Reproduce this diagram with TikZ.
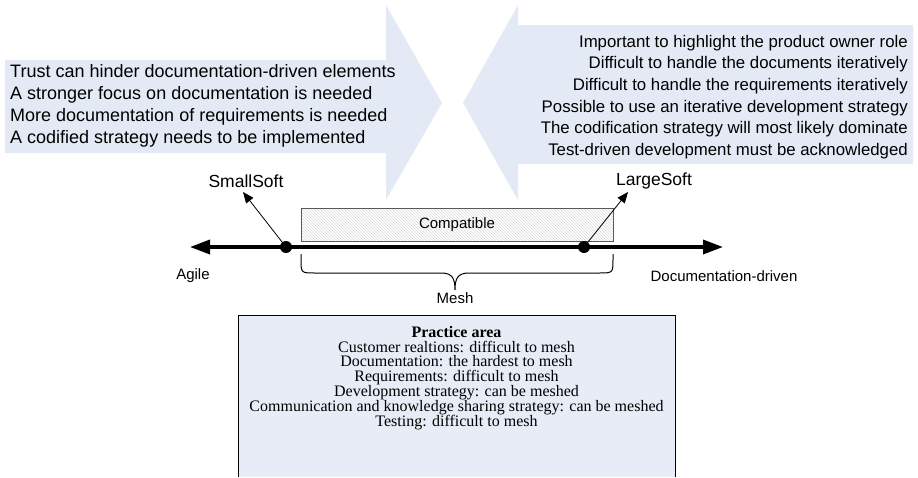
\documentclass[tikz,border=0pt]{standalone}
\usepackage{fontspec}
\setmainfont{Liberation Sans}
\newfontfamily\boxfont{Liberation Serif}
\usetikzlibrary{arrows.meta,patterns}
\definecolor{arrowfill}{RGB}{228,234,245}
\definecolor{boxfill}{RGB}{231,236,246}

\begin{document}
\begin{tikzpicture}[x=1pt,y=-1pt,
    lbl/.style={inner sep=0pt,font=\fontsize{15}{18}\selectfont},
    softlbl/.style={inner sep=0pt,font=\fontsize{17.5}{20}\selectfont},
    dot/.style={circle,fill=black,inner sep=0pt,minimum size=12pt},
    pointer/.style={line width=0.8pt,-{Triangle[length=11pt,width=9pt]}}]
    \useasboundingbox (0,0) rectangle (918,477);
    % the two big arrows
    \fill[arrowfill] (5,60) -- (386,60) -- (386,5) -- (442,103) -- (386,200) -- (386,153) -- (5,153) -- cycle;
    \fill[arrowfill] (913,25) -- (518,25) -- (518,5) -- (463,103) -- (518,200) -- (518,164) -- (913,164) -- cycle;
    \node[anchor=west,align=left,inner sep=0pt,font=\fontsize{18}{22}\selectfont] (agiletxt) at (10,106) {Trust can hinder documentation-driven elements\\A stronger focus on documentation is needed\\More documentation of requirements is needed\\A codified strategy needs to be implemented};
    \node[anchor=east,align=right,inner sep=0pt,font=\fontsize{16.8}{21.6}\selectfont] (doctxt) at (908,97) {Important to highlight the product owner role\\Difficult to handle the documents iteratively\\Difficult to handle the requirements iteratively\\Possible to use an iterative development strategy\\The codification strategy will most likely dominate\\Test-driven development must be acknowledged};
    % the scale
    \coordinate (agileend) at (190,247);
    \coordinate (docend) at (723,247);
    \node[lbl,draw=black!65,line width=0.6pt,pattern=north west lines,pattern color=black!15,minimum width=312pt,minimum height=33pt] (compat) at (457,224.5) {Compatible};
    \draw[line width=3.5pt,{Triangle[length=20pt,width=14pt]}-{Triangle[length=20pt,width=14pt]}] (agileend) -- (docend);
    \node[dot] (smalldot) at (286,247) {};
    \node[dot] (largedot) at (584,247) {};
    \node[softlbl] (smallsoft) at (246,181) {SmallSoft};
    \node[softlbl] (largesoft) at (654,181) {LargeSoft};
    \coordinate (smalltip) at (243,192);
    \coordinate (largetip) at (628,192);
    \draw[pointer] (smalldot.center) -- (smalltip);
    \draw[pointer] (largedot.center) -- (largetip);
    \node[lbl] (agile) at (193,276) {Agile};
    \node[lbl] (docdriven) at (724,276) {Documentation-driven};
    % brace under the compatible part
    \draw[line width=1pt] (301,254) -- (301,259) .. controls (301,273) and (301,273) .. (315,273) -- (441,273) .. controls (452,273) and (455,278) .. (455,290) .. controls (455,278) and (458,273) .. (469,273) -- (599,273) .. controls (613,273) and (613,273) .. (613,259) -- (613,254);
    \node[lbl] (mesh) at (455,298) {Mesh};
    % practice areas
    \fill[boxfill] (238,315) rectangle (675,477);
    \draw[line width=1pt] (238,477) -- (238,315) -- (675,315) -- (675,477);
    \node[anchor=north,align=center,inner sep=0pt,font=\boxfont\fontsize{16}{14.8}\selectfont] (practice) at (456.5,326) {\textbf{Practice area}\\Customer realtions: difficult to mesh\\Documentation: the hardest to mesh\\Requirements: difficult to mesh\\Development strategy: can be meshed\\Communication and knowledge sharing strategy: can be meshed\\Testing: difficult to mesh};
\end{tikzpicture}
\end{document}
